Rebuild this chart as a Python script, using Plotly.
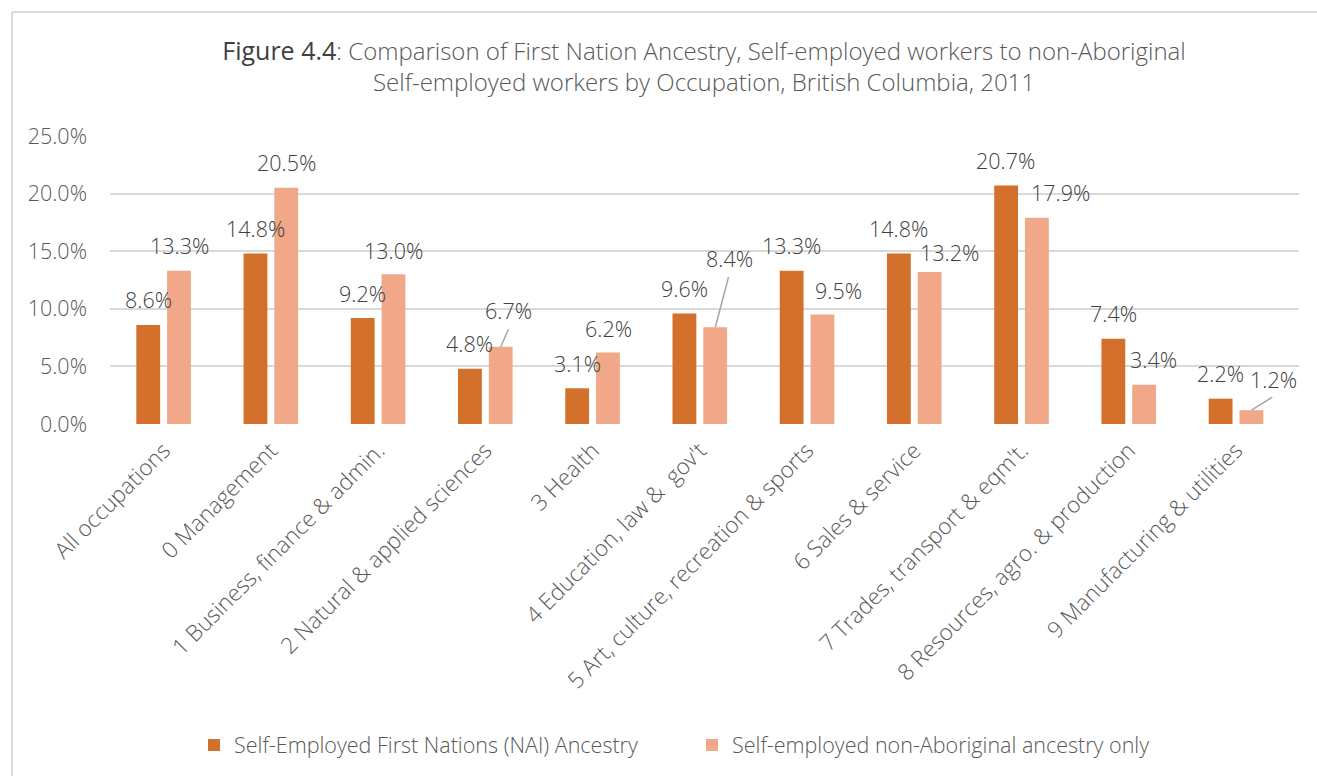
import plotly.graph_objects as go

# ---- data -------------------------------------------------------------
categories = [
    "All occupations",
    "0 Management",
    "1 Business, finance & admin.",
    "2 Natural & applied sciences",
    "3 Health",
    "4 Education, law &  gov't",
    "5 Art, culture, recreation & sports",
    "6 Sales & service",
    "7 Trades, transport & eqm't.",
    "8 Resources, agro. & production",
    "9 Manufacturing & utilities",
]
first_nations = [8.6, 14.8, 9.2, 4.8, 3.1, 9.6, 13.3, 14.8, 20.7, 7.4, 2.2]
non_aboriginal = [13.3, 20.5, 13.0, 6.7, 6.2, 8.4, 9.5, 13.2, 17.9, 3.4, 1.2]
y_ticks = [0, 5, 10, 15, 20, 25]
y_tick_text = [f"{v:.1f}%" for v in y_ticks]

series_names = [
    "Self-Employed First Nations (NAI) Ancestry",
    "Self-employed non-Aboriginal ancestry only",
]

# ---- label placement (pixel offsets from each bar top: dx, dy up) ------
fn_label_offsets = [(0, 25)] * len(categories)
na_label_offsets = [(0, 25), (0, 25), (0, 24), (8, 36), (0, 24), (14, 69),
                    (16, 24), (20, 19), (23, 25), (9, 25.5), (22, 31)]
# leader lines: category index -> (dx, dy up) of the line end
na_leaders = {3: (8.2, 19), 5: (13.6, 51.7), 10: (22.3, 14)}

# ---- layout geometry ----------------------------------------------------
W, H = 1317, 776
L, R, T, B = 110, 18, 136, 352
plot_w = W - L - R
plot_h = H - T - B
BARGAP = 0.426
cat_w = plot_w / len(categories)
half_slot = (1 - BARGAP) * cat_w / 4  # distance from category centre to bar centre

DARK = "#D2702C"
LIGHT = "#F1A889"
LABEL_COL = "#404040"
TICK_COL = "#595959"
GRID_COL = "#D9D9D9"
FONT = "Open Sans"

fig = go.Figure()
fig.add_bar(x=categories, y=first_nations, name=series_names[0],
            marker=dict(color=DARK, line=dict(width=0)))
fig.add_bar(x=categories, y=non_aboriginal, name=series_names[1],
            marker=dict(color=LIGHT, line=dict(width=0)))

annotations = []
for vals, offs, sign in ((first_nations, fn_label_offsets, -1),
                         (non_aboriginal, na_label_offsets, 1)):
    for cat, v, (dx, dy) in zip(categories, vals, offs):
        annotations.append(dict(
            x=cat, y=v, xref="x", yref="y", text=f"{v:.1f}%",
            showarrow=False, xanchor="center", yanchor="middle",
            xshift=sign * half_slot + dx, yshift=dy,
            font=dict(family=FONT, size=21.5, color=LABEL_COL, weight=300),
        ))

for i, (dx, dy) in na_leaders.items():
    annotations.append(dict(
        x=categories[i], y=non_aboriginal[i], xref="x", yref="y", text="",
        showarrow=True, arrowhead=0, arrowwidth=1.5, arrowcolor="#A6A6A6",
        ax=dx, ay=-dy, standoff=0, startstandoff=0,
        xshift=half_slot,
    ))

title_text = ("<span style='font-family:\"Liberation Sans Narrow\", \"Open Sans\";"
              "font-weight:400;color:#404040;font-size:25px'>Figure 4.4</span>"
              ": Comparison of First Nation Ancestry, Self-employed workers to non-Aboriginal"
              "<br>Self-employed workers by Occupation, British Columbia, 2011")

# outer chart frame (left and top edges are visible)
fx0 = (12 - L) / plot_w
fy1 = 1 + (T - 12) / plot_h
shapes = [
    dict(type="line", xref="paper", yref="paper", x0=fx0, x1=fx0, y0=-5, y1=fy1,
         line=dict(color="#D9D9D9", width=2)),
    dict(type="line", xref="paper", yref="paper", x0=fx0, x1=5, y0=fy1, y1=fy1,
         line=dict(color="#D9D9D9", width=2)),
]

fig.update_layout(
    width=W, height=H,
    margin=dict(l=L, r=R, t=T, b=B, autoexpand=False),
    paper_bgcolor="white", plot_bgcolor="white",
    barmode="group", bargap=BARGAP, bargroupgap=0.226,
    title=dict(text=title_text, x=704 / W, xanchor="center",
               y=1 - 60 / H, yanchor="middle",
               font=dict(family=FONT, size=24, color=TICK_COL, weight=300)),
    xaxis=dict(tickangle=-45, showgrid=False, zeroline=False, showline=False,
               ticks="", automargin=False, ticklabelstandoff=8,
               tickfont=dict(family=FONT, size=22.5, color=TICK_COL, weight=300)),
    yaxis=dict(range=[0, 25], tickvals=y_ticks, ticktext=y_tick_text,
               showgrid=True, gridcolor=GRID_COL, gridwidth=1.5,
               zeroline=False, showline=False, ticks="", ticklabelstandoff=22,
               automargin=False,
               tickfont=dict(family=FONT, size=21.5, color=TICK_COL, weight=300)),
    legend=dict(orientation="h", x=(692 - L) / plot_w, xanchor="center",
                y=-(745 - (T + plot_h)) / plot_h, yanchor="middle",
                font=dict(family=FONT, size=21.5, color=TICK_COL, weight=300),
                traceorder="normal", entrywidth=453),
    annotations=annotations,
    shapes=shapes,
    showlegend=True,
)

fig.write_html("out.html")
